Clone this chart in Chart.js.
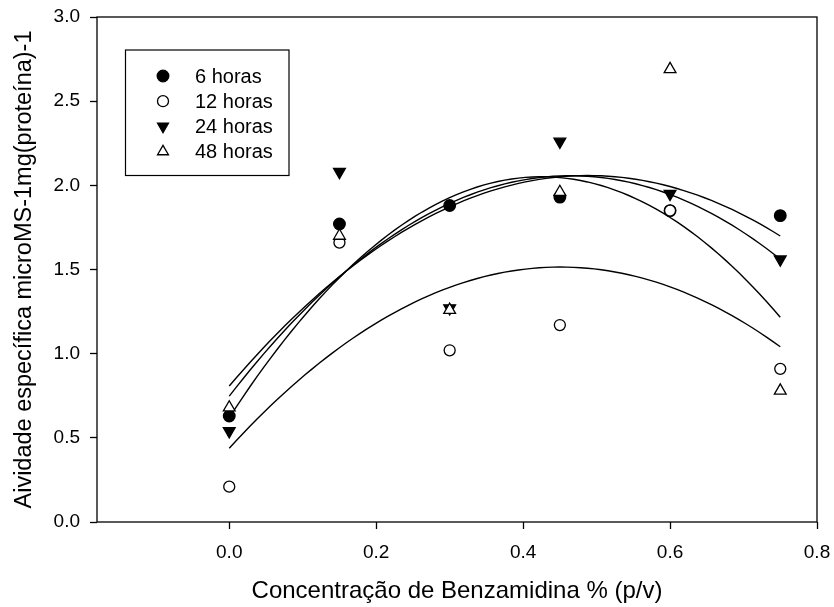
<!DOCTYPE html>
<html lang="pt">
<head>
  <meta charset="UTF-8" />
  <title>Atividade específica x Benzamidina</title>
  <script src="https://cdn.jsdelivr.net/npm/chart.js"></script>
  <style>
    html, body {
      margin: 0;
      padding: 0;
      background: #fff;
    }
    .wrap {
      width: 834px;
      height: 607px;
    }
  </style>
</head>
<body>
  <div class="wrap">
    <canvas id="grafico" width="834" height="607"></canvas>
  </div>

  <script>
    // concentrações de benzamidina % (p/v)
    const concentracoes = [0, 0.15, 0.30, 0.45, 0.60, 0.75];

    // atividade específica por tempo de incubação
    const horas6  = [0.63, 1.77, 1.88, 1.93, 1.85, 1.82];
    const horas12 = [0.21, 1.66, 1.02, 1.17, 1.85, 0.91];
    const horas24 = [0.54, 2.08, 1.27, 2.26, 1.95, 1.56];
    const horas48 = [0.68, 1.70, 1.26, 1.96, 2.69, 0.78];

    const rotulos = ['6 horas', '12 horas', '24 horas', '48 horas'];
    const xTicks = [0.0, 0.2, 0.4, 0.6, 0.8];
    const yTicks = [0.0, 0.5, 1.0, 1.5, 2.0, 2.5, 3.0];

    const FONTE = "'Liberation Sans', Arial, sans-serif";

    function pontos(ys) {
      return concentracoes.map((x, i) => ({ x: x, y: ys[i] }));
    }

    // regressão polinomial de 2º grau (mínimos quadrados)
    function ajusteQuadratico(xs, ys) {
      const n = xs.length;
      let s = [0, 0, 0, 0, 0], t = [0, 0, 0];
      for (let i = 0; i < n; i++) {
        let p = 1;
        for (let k = 0; k < 5; k++) { s[k] += p; p *= xs[i]; }
        t[0] += ys[i];
        t[1] += ys[i] * xs[i];
        t[2] += ys[i] * xs[i] * xs[i];
      }
      const M = [
        [s[0], s[1], s[2], t[0]],
        [s[1], s[2], s[3], t[1]],
        [s[2], s[3], s[4], t[2]]
      ];
      for (let c = 0; c < 3; c++) {
        for (let r = c + 1; r < 3; r++) {
          const f = M[r][c] / M[c][c];
          for (let k = c; k < 4; k++) M[r][k] -= f * M[c][k];
        }
      }
      const b = [0, 0, 0];
      for (let r = 2; r >= 0; r--) {
        let v = M[r][3];
        for (let k = r + 1; k < 3; k++) v -= M[r][k] * b[k];
        b[r] = v / M[r][r];
      }
      return b;
    }

    function curva(ys) {
      const b = ajusteQuadratico(concentracoes, ys);
      const x0 = concentracoes[0];
      const x1 = concentracoes[concentracoes.length - 1];
      const pts = [];
      const passos = 80;
      for (let i = 0; i <= passos; i++) {
        const x = x0 + (x1 - x0) * i / passos;
        pts.push({ x: x, y: b[0] + b[1] * x + b[2] * x * x });
      }
      return pts;
    }

    const series = [horas6, horas12, horas24, horas48];
    const estilos = [
      { pointStyle: 'circle',   rotation: 0,   fill: '#000', radius: 5.8 },
      { pointStyle: 'circle',   rotation: 0,   fill: '#fff', radius: 5.5 },
      { pointStyle: 'triangle', rotation: 180, fill: '#000', radius: 6.8 },
      { pointStyle: 'triangle', rotation: 0,   fill: '#fff', radius: 6.8 }
    ];

    const datasets = [];
    series.forEach((ys) => {
      datasets.push({
        type: 'line',
        data: curva(ys),
        borderColor: '#000',
        borderWidth: 1.4,
        pointRadius: 0,
        fill: false,
        tension: 0,
        order: 10,
        emLegenda: false
      });
    });
    // séries posteriores ficam por cima das anteriores
    series.forEach((ys, i) => {
      const e = estilos[i];
      datasets.push({
        type: 'scatter',
        label: rotulos[i],
        data: pontos(ys),
        pointStyle: e.pointStyle,
        rotation: e.rotation,
        pointRadius: e.radius,
        pointBackgroundColor: e.fill,
        pointBorderColor: '#000',
        pointBorderWidth: 1.3,
        order: 4 - i,
        emLegenda: true
      });
    });

    // moldura do gráfico e legenda dentro da área
    const molduraLegenda = {
      id: 'molduraLegenda',
      afterDraw(chart) {
        const ctx = chart.ctx;
        const a = chart.chartArea;
        ctx.save();
        ctx.strokeStyle = '#000';
        ctx.lineWidth = 1.3;
        ctx.strokeRect(a.left, a.top, a.right - a.left, a.bottom - a.top);

        const bx = 125.5, by = 50, bw = 163.5, bh = 125.5;
        ctx.fillStyle = '#fff';
        ctx.fillRect(bx, by, bw, bh);
        ctx.lineWidth = 1.2;
        ctx.strokeRect(bx, by, bw, bh);

        ctx.font = '20px ' + FONTE;
        ctx.textBaseline = 'middle';
        ctx.textAlign = 'left';
        const itens = chart.data.datasets.filter(d => d.emLegenda);
        itens.forEach((d, i) => {
          const y = 76 + i * 25.2;
          ctx.fillStyle = d.pointBackgroundColor;
          ctx.strokeStyle = '#000';
          ctx.lineWidth = 1.3;
          Chart.helpers.drawPoint(ctx, {
            pointStyle: d.pointStyle,
            rotation: d.rotation,
            radius: d.pointStyle === 'circle' ? d.pointRadius : 6.3,
            borderWidth: 1.3
          }, 163, y);
          ctx.fillStyle = '#000';
          ctx.fillText(d.label, 195, y + 1);
        });
        ctx.restore();
      }
    };

    new Chart(document.getElementById('grafico'), {
      data: { datasets: datasets },
      options: {
        responsive: false,
        animation: false,
        layout: { padding: { top: 17, right: 17, left: 0, bottom: 0 } },
        plugins: {
          legend: { display: false },
          tooltip: { enabled: false }
        },
        scales: {
          x: {
            type: 'linear',
            min: -0.18,
            max: 0.8,
            afterBuildTicks(scale) {
              scale.ticks = xTicks.map(v => ({ value: v }));
            },
            afterFit(scale) {
              scale.height = 85;
              scale.paddingLeft = 0;
              scale.paddingRight = 0;
            },
            border: { display: false },
            grid: {
              drawOnChartArea: false,
              drawTicks: true,
              tickLength: 7,
              tickWidth: 1.3,
              tickColor: '#000'
            },
            ticks: {
              color: '#000',
              font: { family: FONTE, size: 19 },
              padding: 12,
              maxRotation: 0,
              callback: v => Number(v).toFixed(1)
            },
            title: {
              display: true,
              text: 'Concentração de Benzamidina % (p/v)',
              color: '#000',
              font: { family: FONTE, size: 24 },
              padding: { top: 0, bottom: 1 }
            }
          },
          y: {
            type: 'linear',
            min: 0,
            max: 3,
            afterBuildTicks(scale) {
              scale.ticks = yTicks.map(v => ({ value: v }));
            },
            afterFit(scale) {
              scale.width = 97;
              scale.paddingTop = 0;
              scale.paddingBottom = 0;
            },
            border: { display: false },
            grid: {
              drawOnChartArea: false,
              drawTicks: true,
              tickLength: 7,
              tickWidth: 1.3,
              tickColor: '#000'
            },
            ticks: {
              color: '#000',
              font: { family: FONTE, size: 19 },
              padding: 10,
              callback: v => Number(v).toFixed(1)
            },
            title: {
              display: true,
              text: 'Aividade específica microMS-1mg(proteína)-1',
              color: '#000',
              font: { family: FONTE, size: 23.5 },
              padding: { top: 10, bottom: 0 }
            }
          }
        }
      },
      plugins: [molduraLegenda]
    });
  </script>
</body>
</html>
